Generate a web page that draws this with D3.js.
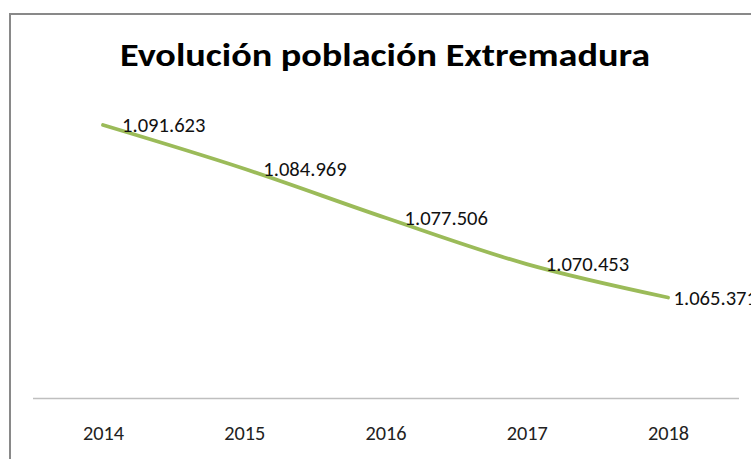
<!DOCTYPE html>
<html>
<head>
<meta charset="utf-8">
<script src="https://cdn.jsdelivr.net/npm/d3@7"></script>
<style>
  html, body { margin: 0; padding: 0; background: #fff; }
  svg { display: block; }
</style>
</head>
<body>
<div id="app"></div>
<script>
;(() => {

    const years = ['2014', '2015', '2016', '2017', '2018']
    const population = [1091623, 1084969, 1077506, 1070453, 1065371]
    const labels = ['1.091.623', '1.084.969', '1.077.506', '1.070.453', '1.065.371']
    const title = 'Evolución población Extremadura'

    const data = years.map((y, i) => ({ year: y, value: population[i], label: labels[i] }))

    const width = 751
    const height = 459
    const font = "Calibri, Carlito, 'Liberation Sans', Arial, sans-serif"

    const x_scale = d3
        .scalePoint()
        .domain(years)
        .range([103, 668])

    const y_scale = d3
        .scaleLinear()
        .domain([1050000, 1100000])
        .range([398.5, 70])

    const svg = d3
        .create('svg')
        .attr('viewBox', [0, 0, width, height])
        .attr('width', width)
        .attr('height', height)

    // chart border
    svg
        .append('rect')
        .attr('x', 10)
        .attr('y', 14)
        .attr('width', width + 10)
        .attr('height', height + 10)
        .attr('fill', '#fff')
        .attr('stroke', '#898989')
        .attr('stroke-width', 2)

    svg
        .append('text')
        .attr('x', 385)
        .attr('y', 66)
        .attr('text-anchor', 'middle')
        .attr('font-family', font)
        .attr('font-weight', 'bold')
        .attr('font-size', 32.5)
        .attr('fill', '#000')
        .attr('textLength', 530)
        .attr('lengthAdjust', 'spacingAndGlyphs')
        .text(title)

    // category axis
    const axis = svg
        .append('g')
        .attr('transform', `translate(0, ${y_scale.range()[0]})`)
        .call(d3.axisBottom(x_scale).tickSize(0).tickPadding(27))

    axis.select('.domain')
        .attr('d', 'M33,0H739')
        .attr('stroke', '#bfbfbf')
        .attr('stroke-width', 1.5)

    axis.selectAll('text')
        .attr('font-family', font)
        .attr('font-size', 20.3)
        .attr('fill', '#222')

    svg
        .append('path')
        .datum(data)
        .attr('d', d3
            .line()
            .x(d => x_scale(d.year))
            .y(d => y_scale(d.value))
            .curve(d3.curveCatmullRom.alpha(0.5))
        )
        .attr('fill', 'none')
        .attr('stroke', '#9bbb59')
        .attr('stroke-width', 3.8)
        .attr('stroke-linecap', 'round')

    const value_labels = svg
        .append('g')
        .selectAll('text')
        .data(data)
        .join('text')
        .attr('y', d => y_scale(d.value))
        .attr('dy', '0.35em')
        .attr('font-family', font)
        .attr('font-size', 20.6)
        .attr('fill', '#111')
        .text(d => d.label)

    d3.select('#app').append(() => svg.node())

    // labels sit right of the point, pushed back when they would run past the chart edge
    const right_edge = width + 6
    value_labels.attr('x', function(d) {
        const w = this.getComputedTextLength()
        return Math.min(x_scale(d.year) + 19, right_edge - w)
    })

})()
</script>
</body>
</html>
